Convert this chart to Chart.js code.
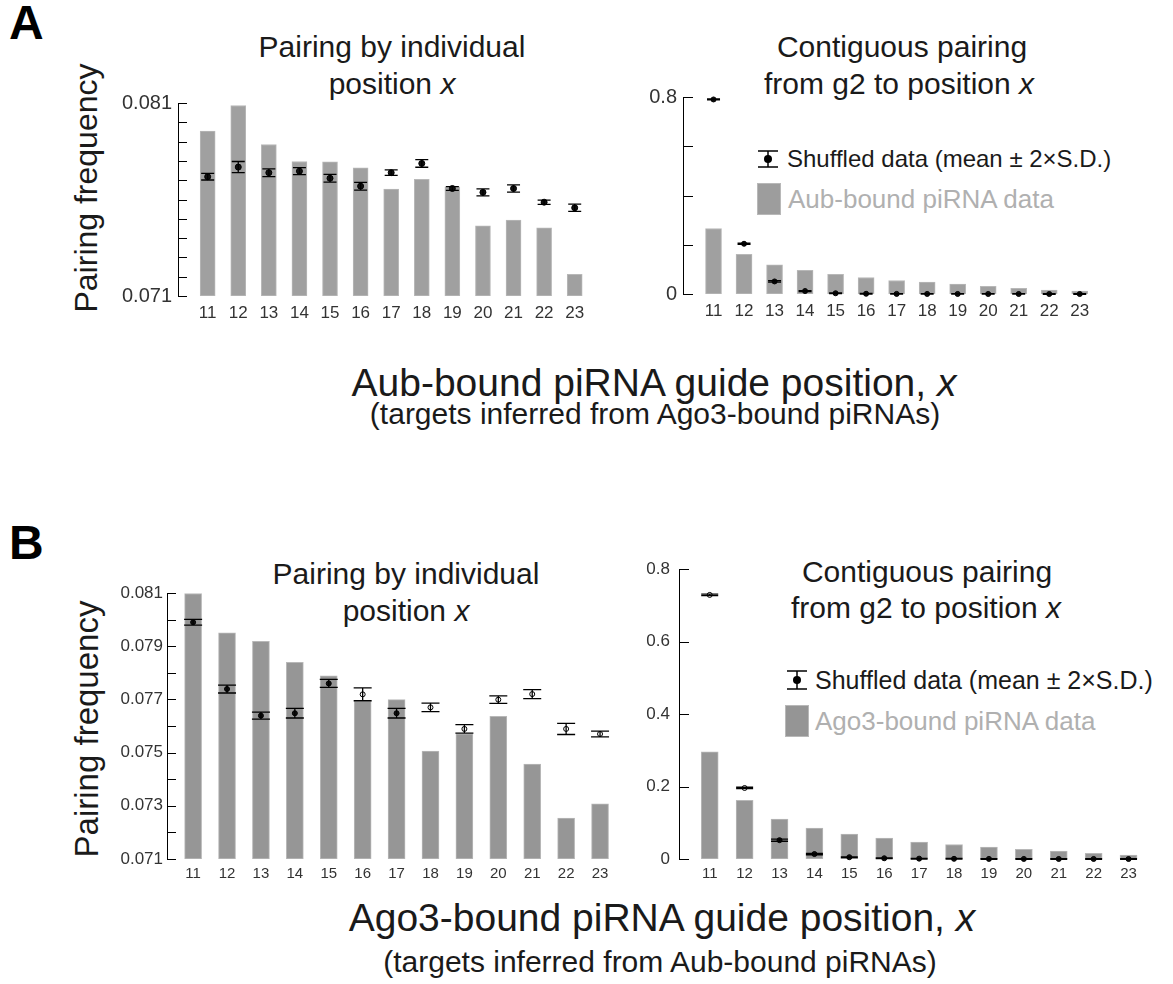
<!DOCTYPE html>
<html lang="en">
<head>
<meta charset="UTF-8">
<title>Pairing frequency by guide position</title>
<script src="https://cdn.jsdelivr.net/npm/chart.js"></script>
<style>
  body { margin: 0; background: #fff; font-family: 'Liberation Sans', Arial, sans-serif; color: #1a1a1a; }
  #page { position: relative; width: 1173px; height: 984px; overflow: hidden; }
  canvas { position: absolute; }
  .t { position: absolute; white-space: nowrap; line-height: 1; transform: translate(-50%, -50%); }
  .tag { position: absolute; font-weight: bold; font-size: 48px; line-height: 1; color: #000; }
  .ytitle { position: absolute; white-space: nowrap; line-height: 1; font-size: 32px; transform: translate(-50%, -50%) rotate(-90deg); }
  .leg { position: absolute; white-space: nowrap; line-height: 1; transform: translateY(-50%); }
  .box { position: absolute; background: #9d9d9d; border: 1px solid #b8b8b8; box-sizing: border-box; }
  svg { position: absolute; }
</style>
</head>
<body>
<div id="page">
  <div class="tag" style="left:9px; top:-1px;">A</div>
  <div class="tag" style="left:9px; top:519px;">B</div>

  <div class="ytitle" style="left:86px; top:188px;">Pairing frequency</div>
  <div class="ytitle" style="left:86px; top:729px; font-size:33px;">Pairing frequency</div>

  <div class="t" style="left:392px; top:47px; font-size:30px;">Pairing by individual</div>
  <div class="t" style="left:392px; top:84px; font-size:30px;">position <i>x</i></div>
  <div class="t" style="left:902px; top:47px; font-size:30px;">Contiguous pairing</div>
  <div class="t" style="left:899px; top:84px; font-size:30px;">from g2 to position <i>x</i></div>

  <div class="t" style="left:406px; top:574px; font-size:30px;">Pairing by individual</div>
  <div class="t" style="left:406px; top:611px; font-size:30px;">position <i>x</i></div>
  <div class="t" style="left:927px; top:572px; font-size:30px;">Contiguous pairing</div>
  <div class="t" style="left:926px; top:608px; font-size:30px;">from g2 to position <i>x</i></div>

  <div class="t" style="left:654px; top:382px; font-size:39px;">Aub-bound piRNA guide position, <i>x</i></div>
  <div class="t" style="left:655px; top:414px; font-size:30px;">(targets inferred from Ago3-bound piRNAs)</div>
  <div class="t" style="left:662px; top:917px; font-size:39px;">Ago3-bound piRNA guide position, <i>x</i></div>
  <div class="t" style="left:660px; top:962px; font-size:30px;">(targets inferred from Aub-bound piRNAs)</div>

  <svg style="left:757px; top:150px;" width="22" height="18">
    <line x1="1" y1="1" x2="21" y2="1" stroke="#000" stroke-width="1.5"/>
    <line x1="1" y1="17" x2="21" y2="17" stroke="#000" stroke-width="1.5"/>
    <line x1="11" y1="1" x2="11" y2="17" stroke="#000" stroke-width="1.5"/>
    <circle cx="11" cy="9" r="4" fill="#000"/>
  </svg>
  <div class="leg" style="left:787px; top:159px; font-size:24px;">Shuffled data (mean ± 2×S.D.)</div>
  <div class="box" style="left:757px; top:183px; width:24px; height:32px;"></div>
  <div class="leg" style="left:788px; top:199px; font-size:26px; color:#b0b0b0;">Aub-bound piRNA data</div>

  <svg style="left:786px; top:670px;" width="22" height="20">
    <line x1="1" y1="1" x2="21" y2="1" stroke="#000" stroke-width="1.5"/>
    <line x1="1" y1="19" x2="21" y2="19" stroke="#000" stroke-width="1.5"/>
    <line x1="11" y1="1" x2="11" y2="19" stroke="#000" stroke-width="1.5"/>
    <circle cx="11" cy="10" r="4" fill="#000"/>
  </svg>
  <div class="leg" style="left:815px; top:680px; font-size:25px;">Shuffled data (mean ± 2×S.D.)</div>
  <div class="box" style="left:785px; top:705px; width:24px; height:32px; background:#959595;"></div>
  <div class="leg" style="left:815px; top:721px; font-size:26px; color:#b0b0b0;">Ago3-bound piRNA data</div>

  <canvas id="aIndiv" width="495" height="245" style="left:100px; top:85px;"></canvas>
  <canvas id="aContig" width="490" height="249" style="left:610px; top:79px;"></canvas>
  <canvas id="bIndiv" width="522" height="313" style="left:100px; top:578px;"></canvas>
  <canvas id="bContig" width="531" height="341" style="left:620px; top:550px;"></canvas>
</div>

<script>
  // guide positions on the x axis
  const positions = [11, 12, 13, 14, 15, 16, 17, 18, 19, 20, 21, 22, 23];

  // A: Aub-bound piRNA, pairing by individual position
  const aIndivBars = [0.07955, 0.08087, 0.07885, 0.07797, 0.07795, 0.07764, 0.07654, 0.07705, 0.07666, 0.07463, 0.07494, 0.07453, 0.07212];
  const aIndivMean = [0.07718, 0.07768, 0.07739, 0.07747, 0.07710, 0.07669, 0.07739, 0.07787, 0.07657, 0.07637, 0.07657, 0.07586, 0.07557];
  const aIndivErr  = [0.00017, 0.00029, 0.00020, 0.00018, 0.00020, 0.00020, 0.00014, 0.00020, 0.00010, 0.00018, 0.00019, 0.00011, 0.00019];

  // A: contiguous pairing from g2 to position x
  const aContigBars = [0.266, 0.161, 0.118, 0.096, 0.080, 0.067, 0.055, 0.048, 0.040, 0.031, 0.023, 0.016, 0.012];
  const aContigMean = [0.790, 0.204, 0.051, 0.012, 0.003, 0.001, 0.0005, 0.0003, 0.0002, 0.0001, 0.0001, 0, 0];
  const aContigErr  = [0.002, 0.002, 0.003, 0.002, 0.001, 0.001, 0.001, 0.001, 0.001, 0.001, 0.001, 0.001, 0.001];

  // B: Ago3-bound piRNA, pairing by individual position
  const bIndivBars = [0.08098, 0.07950, 0.07918, 0.07839, 0.07789, 0.07693, 0.07699, 0.07506, 0.07571, 0.07636, 0.07457, 0.07254, 0.07307];
  const bIndivMean = [0.07990, 0.07739, 0.07639, 0.07648, 0.07760, 0.07719, 0.07648, 0.07670, 0.07589, 0.07699, 0.07720, 0.07589, 0.07570];
  const bIndivErr  = [0.00011, 0.00015, 0.00013, 0.00018, 0.00015, 0.00024, 0.00018, 0.00016, 0.00016, 0.00014, 0.00017, 0.00021, 0.00011];

  // B: contiguous pairing from g2 to position x
  const bContigBars = [0.296, 0.162, 0.110, 0.0855, 0.069, 0.058, 0.047, 0.040, 0.033, 0.027, 0.022, 0.0155, 0.011];
  const bContigMean = [0.729, 0.196, 0.052, 0.0137, 0.005, 0.002, 0.001, 0.0005, 0.0003, 0.0002, 0.0001, 0.0001, 0];
  const bContigErr  = [0.002, 0.002, 0.003, 0.002, 0.001, 0.001, 0.001, 0.001, 0.001, 0.001, 0.001, 0.001, 0.001];

  // y axis ticks and which of them carry a label
  const indivTicks = [0.071, 0.072, 0.073, 0.074, 0.075, 0.076, 0.077, 0.078, 0.079, 0.080, 0.081];
  const contigTicks = [0, 0.2, 0.4, 0.6, 0.8];
  const aIndivLabels = [0.071, 0.081];
  const aContigLabels = [0, 0.8];
  const bIndivLabels = [0.071, 0.073, 0.075, 0.077, 0.079, 0.081];
  const bContigLabels = [0, 0.2, 0.4, 0.6, 0.8];

  Chart.defaults.font.family = "'Liberation Sans', Arial, sans-serif";

  const toXY = vals => positions.map((p, i) => ({ x: p, y: vals[i] }));

  // inward tick marks + error bars
  function extras(capHalf, tickLen) {
    return {
      id: 'extras',
      afterDatasetsDraw(chart) {
        const { ctx, chartArea, scales: { y } } = chart;
        ctx.save();
        ctx.strokeStyle = '#000';
        ctx.lineWidth = 1;
        y.ticks.forEach(t => {
          const py = Math.round(y.getPixelForValue(t.value)) + 0.5;
          ctx.beginPath();
          ctx.moveTo(chartArea.left, py);
          ctx.lineTo(chartArea.left + tickLen, py);
          ctx.stroke();
        });
        ctx.lineWidth = 1.3;
        chart.data.datasets.forEach((ds, i) => {
          if (!ds.errors) return;
          chart.getDatasetMeta(i).data.forEach((pt, j) => {
            const m = ds.data[j].y, e = ds.errors[j];
            const top = y.getPixelForValue(m + e), bot = y.getPixelForValue(m - e);
            ctx.beginPath();
            ctx.moveTo(pt.x, top); ctx.lineTo(pt.x, bot);
            ctx.moveTo(pt.x - capHalf, top); ctx.lineTo(pt.x + capHalf, top);
            ctx.moveTo(pt.x - capHalf, bot); ctx.lineTo(pt.x + capHalf, bot);
            ctx.stroke();
          });
        });
        ctx.restore();
      }
    };
  }

  function drawPanel(id, o) {
    const same = (a, b) => Math.abs(a - b) < 1e-9;
    new Chart(document.getElementById(id), {
      type: 'bar',
      data: {
        datasets: [
          {
            type: 'scatter', data: toXY(o.mean), errors: o.err, order: 0, clip: false,
            pointRadius: o.r, pointBorderColor: '#000', pointBorderWidth: 1,
            pointBackgroundColor: ctx => o.hollow && o.mean[ctx.dataIndex] >= o.bars[ctx.dataIndex] ? '#fff' : '#111'
          },
          {
            type: 'bar', data: toXY(o.bars), order: 1, base: o.yMin, barThickness: o.barW,
            backgroundColor: o.barColor, borderColor: '#b8b8b8', borderWidth: 1, borderSkipped: false
          }
        ]
      },
      options: {
        responsive: false,
        animation: false,
        layout: { padding: { top: 15, right: 0, bottom: 0, left: 0 } },
        plugins: { legend: { display: false }, tooltip: { enabled: false } },
        scales: {
          x: {
            type: 'linear', offset: false, min: o.xMin, max: o.xMax,
            grid: { display: false, drawTicks: false },
            border: { display: false },
            afterBuildTicks: s => { s.ticks = positions.map(v => ({ value: v })); },
            afterFit: s => { s.height = o.xAxisH; },
            ticks: { autoSkip: false, maxRotation: 0, padding: o.xPad, color: '#333', font: { size: o.xFont }, callback: v => String(v) }
          },
          y: {
            min: o.yMin, max: o.yMax,
            grid: { display: false, drawTicks: false },
            border: { display: true, color: '#000', width: 1 },
            afterBuildTicks: s => { s.ticks = o.yTicks.map(v => ({ value: v })); },
            afterFit: s => { s.width = o.yAxisW; },
            ticks: {
              autoSkip: false, padding: o.yPad, color: '#333', font: { size: o.yFont },
              callback: v => o.yLabels.some(l => same(l, v)) ? o.fmt(v) : ''
            }
          }
        }
      },
      plugins: [extras(o.cap, o.tickLen)]
    });
  }

  const fmt3 = v => v.toFixed(3);
  const fmt1 = v => v === 0 ? '0' : String(parseFloat(v.toFixed(1)));

  drawPanel('aIndiv', {
    bars: aIndivBars, mean: aIndivMean, err: aIndivErr, hollow: false, r: 3,
    yMin: 0.071, yMax: 0.081, yTicks: indivTicks, yLabels: aIndivLabels, fmt: fmt3,
    xMin: 10.03, xMax: 23.5, yAxisW: 78, xAxisH: 34, xPad: 7, yPad: 6,
    xFont: 17, yFont: 20, barW: 15, barColor: '#a0a0a0', cap: 6.5, tickLen: 9
  });
  drawPanel('aContig', {
    bars: aContigBars, mean: aContigMean, err: aContigErr, hollow: false, r: 2.5,
    yMin: 0, yMax: 0.8, yTicks: contigTicks, yLabels: aContigLabels, fmt: fmt1,
    xMin: 10, xMax: 23.5, yAxisW: 73, xAxisH: 34, xPad: 7, yPad: 6,
    xFont: 17, yFont: 20, barW: 16, barColor: '#a0a0a0', cap: 6.5, tickLen: 10
  });
  drawPanel('bIndiv', {
    bars: bIndivBars, mean: bIndivMean, err: bIndivErr, hollow: true, r: 2.5,
    yMin: 0.071, yMax: 0.081, yTicks: indivTicks, yLabels: bIndivLabels, fmt: fmt3,
    xMin: 10.23, xMax: 23.5, yAxisW: 67, xAxisH: 32, xPad: 6, yPad: 4,
    xFont: 15, yFont: 17, barW: 17, barColor: '#969696', cap: 9, tickLen: 9
  });
  drawPanel('bContig', {
    bars: bContigBars, mean: bContigMean, err: bContigErr, hollow: true, r: 2.5,
    yMin: 0, yMax: 0.8, yTicks: contigTicks, yLabels: bContigLabels, fmt: fmt1,
    xMin: 10.12, xMax: 23.5, yAxisW: 59, xAxisH: 32, xPad: 6, yPad: 9,
    xFont: 15, yFont: 17, barW: 17, barColor: '#969696', cap: 8.5, tickLen: 10
  });
</script>
</body>
</html>
